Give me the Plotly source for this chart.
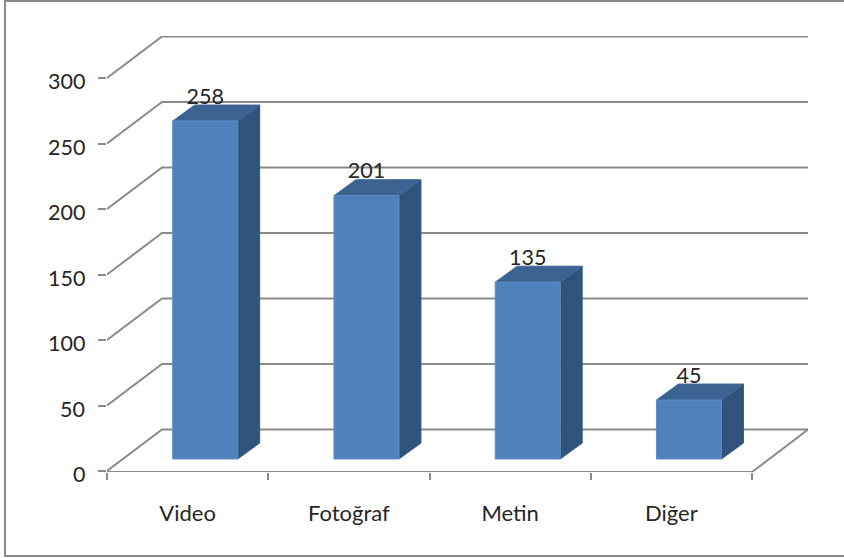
import plotly.graph_objects as go

categories = ["Video", "Fotoğraf", "Metin", "Diğer"]
values = [258, 201, 135, 45]
y_ticks = [0, 50, 100, 150, 200, 250, 300]

W, H = 844, 558
L, R, T, B = 107, 808, 36, 472
UNIT_X = 161.25
UNIT_Y = 1.31
AXIS_DROP = 1 / UNIT_Y
X_MAX = (R - L) / UNIT_X
Y_MAX = (B - T) / UNIT_Y - AXIS_DROP
FLOOR_DX = 55 / UNIT_X
FLOOR_DY = 41.5 / UNIT_Y
BAR_SHIFT_X = 65.7 / UNIT_X
BAR_SHIFT_Y = 12 / UNIT_Y
BAR_W = 65 / UNIT_X
BAR_DX = 22 / UNIT_X
BAR_DY = 16 / UNIT_Y
LABEL_DROP = 4 / UNIT_Y

GRID = "#8a8a8a"
TEXT = "#262626"
FONT = "Lato"

gx, gy = [], []
for t in y_ticks:
    gx += [0, FLOOR_DX, X_MAX, None]
    gy += [t, t + FLOOR_DY, t + FLOOR_DY, None]
gx += [0, len(categories), X_MAX, None]
gy += [-AXIS_DROP, -AXIS_DROP, FLOOR_DY, None]

front_x, front_y, top_x, top_y, side_x, side_y = [], [], [], [], [], []
label_x, label_y = [], []
for i, v in enumerate(values):
    x0 = i + BAR_SHIFT_X
    x1 = x0 + BAR_W
    y0 = BAR_SHIFT_Y
    y1 = y0 + v
    front_x += [x0, x1, x1, x0, x0, None]
    front_y += [y0, y0, y1, y1, y0, None]
    top_x += [x0, x1, x1 + BAR_DX, x0 + BAR_DX, x0, None]
    top_y += [y1, y1, y1 + BAR_DY, y1 + BAR_DY, y1, None]
    side_x += [x1, x1 + BAR_DX, x1 + BAR_DX, x1, x1, None]
    side_y += [y0, y0 + BAR_DY, y1 + BAR_DY, y1, y0, None]
    label_x.append((x0 + x1) / 2)
    label_y.append(y1 + BAR_DY - LABEL_DROP)

fig = go.Figure()
fig.add_trace(go.Scatter(x=gx, y=gy, mode="lines", cliponaxis=False,
                         line=dict(color=GRID, width=2), hoverinfo="skip"))
for xs, ys, fill, edge in [
    (side_x, side_y, "#30537c", "#355a85"),
    (top_x, top_y, "#3b6291", "#416a9b"),
    (front_x, front_y, "#4f81bd", "#5f8dc6"),
]:
    fig.add_trace(go.Scatter(x=xs, y=ys, mode="lines", fill="toself", fillcolor=fill,
                             line=dict(color=edge, width=1), hoverinfo="skip"))
fig.add_trace(go.Scatter(x=label_x, y=label_y, mode="text", text=[str(v) for v in values],
                         textposition="top center", cliponaxis=False,
                         textfont=dict(family=FONT, size=21.5, color=TEXT), hoverinfo="skip"))

annotations = [
    dict(xref="paper", yref="y", x=(87 - L) / (R - L), y=t, yshift=-3, xanchor="right", yanchor="middle",
         text=str(t), showarrow=False, font=dict(family=FONT, size=21.5, color=TEXT))
    for t in y_ticks
]

fig.update_layout(
    width=W, height=H,
    margin=dict(l=L, r=W - R, t=T, b=H - B, pad=0),
    paper_bgcolor="white", plot_bgcolor="white",
    showlegend=False,
    font=dict(family=FONT, size=22, color=TEXT),
    annotations=annotations,
    xaxis=dict(range=[0, X_MAX], tickmode="array",
               tickvals=[i + 0.5 for i in range(len(categories))], ticktext=categories,
               showgrid=False, zeroline=False, showline=False, ticks="", ticklabelstandoff=26,
               minor=dict(tickmode="array", tickvals=list(range(len(categories) + 1)),
                          ticks="outside", ticklen=7, tickwidth=2, tickcolor=GRID, showgrid=False)),
    yaxis=dict(range=[-AXIS_DROP, Y_MAX], tickmode="array", tickvals=y_ticks, showticklabels=False,
               showgrid=False, zeroline=False, showline=False,
               ticks="outside", ticklen=8, tickwidth=2, tickcolor=GRID),
    shapes=[dict(type="rect", xref="paper", yref="paper",
                 x0=(5 - L) / (R - L), x1=1.1,
                 y0=(B - 556) / (B - T), y1=(B - 1) / (B - T),
                 line=dict(color=GRID, width=2), fillcolor="rgba(0,0,0,0)")],
)
fig.write_html("out.html", config=dict(displayModeBar=False),
               post_script="document.body.style.margin='0';")
